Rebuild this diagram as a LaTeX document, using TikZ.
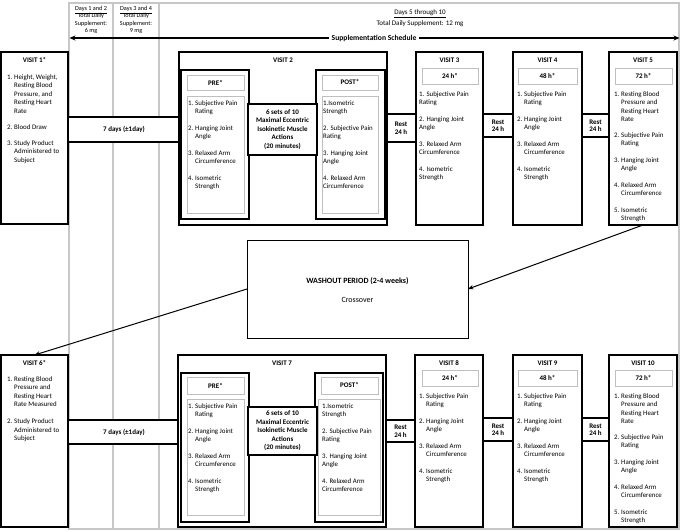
\documentclass[tikz,border=0pt]{standalone}
\usepackage{fontspec}
\setmainfont{Carlito}
\usetikzlibrary{arrows.meta}
\newcommand\bx[6]{%
  \pgfmathsetmacro\bxw{#4-#2}\pgfmathsetmacro\bxh{#5-#3}%
  \node[#6, minimum width=\bxw pt, minimum height=\bxh pt] (#1) at ({(#2+#4)/2},{(#3+#5)/2}) {};}
\newcommand\hl[1]{\begin{tabular}[t]{@{}l@{\hspace{1.8pt}}l@{}}#1\end{tabular}}
\newcommand\nl[1]{\begin{tabular}[t]{@{}l@{}}#1\end{tabular}}
\newcommand\gap{\\[8pt]}
\newcommand\LstStd{\hl{1. & Subjective Pain\\ & Rating\gap 2. & Hanging Joint\\ & Angle\gap 3. & Relaxed Arm\\ & Circumference\gap 4. & Isometric\\ & Strength}}
\newcommand\LstStdN{\nl{1. Subjective Pain\\Rating\gap 2. Hanging Joint\\Angle\gap 3. Relaxed Arm\\Circumference\gap 4. Isometric\\Strength}}
\newcommand\LstPost{\nl{1.Isometric\\Strength\gap 2. Subjective Pain\\Rating\gap 3. Hanging Joint\\Angle\gap 4. Relaxed Arm\\Circumference}}
\newcommand\LstFive{\hl{1. & Resting Blood\\ & Pressure and\\ & Resting Heart\\ & Rate\\[7pt] 2. & Subjective Pain\\ & Rating\gap 3. & Hanging Joint\\ & Angle\gap 4. & Relaxed Arm\\ & Circumference\gap 5. & Isometric\\ & Strength}}
\begin{document}
\begin{tikzpicture}[x=1pt,y=-1pt,
 grid/.style={draw=black!22, line width=1.1pt},
 vbox/.style={draw=black, line width=1.1pt, fill=white, inner sep=0pt, outer sep=0pt},
 pbox/.style={draw=black, line width=1.6pt, fill=white, inner sep=0pt, outer sep=0pt},
 gbox/.style={draw=black!25, line width=0.8pt, fill=white, inner sep=0pt, outer sep=0pt},
 ttl/.style={font=\fontsize{7}{8.5}\selectfont\bfseries, inner sep=0pt, align=center},
 rst/.style={font=\fontsize{7}{7.5}\selectfont\bfseries, inner sep=0pt, align=center},
 hdr/.style={font=\fontsize{6.2}{7.4}\selectfont, inner sep=0pt, align=center},
 lst/.style={font=\fontsize{6.9}{8.5}\selectfont, anchor=north west, inner sep=0pt},
 conn/.style={-{Stealth[length=5.5pt,width=4.5pt]}, line width=1pt},
]
\useasboundingbox (0,0) rectangle (685,531);
% background grid of the schedule
\draw[grid] (69,3) -- (679,3) -- (679,529) -- (69,529) -- cycle;
\draw[grid] (113,3) -- (113,529);
\draw[grid] (159,3) -- (159,529);
% header
\node[hdr] (d12) at (91,20) {\underline{Days 1 and 2}\\Total Daily\\Supplement:\\6 mg};
\node[hdr] (d34) at (136,20) {\underline{Days 3 and 4}\\Total Daily\\Supplement:\\9 mg};
\node[font=\fontsize{7}{11}\selectfont, align=center, inner sep=0pt] (d510) at (420,18.5) {\underline{Days 5 through 10}\\Total Daily Supplement: 12 mg};
\coordinate (ss) at (69.5,38);
\coordinate (se) at (679.5,38);
\draw[line width=1.3pt, {Stealth[length=6pt,width=5pt]}-{Stealth[length=6pt,width=5pt]}] (ss) -- (se);
\node[fill=white, font=\fontsize{7.6}{9}\selectfont\bfseries, inner xsep=3pt, inner ysep=1pt] (sched) at (374,38) {Supplementation Schedule};
% ---------- top row ----------
\bx{d7a}{68}{117}{180}{142}{vbox}
\bx{r1}{386}{114}{416}{142}{vbox}
\bx{r2}{483}{114}{513}{137}{vbox}
\bx{r3}{582}{114}{609}{137}{vbox}
\bx{v1}{1}{52}{68}{224}{vbox}
\bx{v2}{179}{52}{387}{225}{vbox}
\bx{pre2}{181}{70}{249}{219}{pbox}
\bx{post2}{316}{70}{385}{219}{pbox}
\bx{act2}{248}{104}{317}{155}{pbox}
\bx{preh2}{187}{75}{244}{90}{gbox}
\bx{prel2}{187}{96}{244}{213}{gbox}
\bx{posth2}{322}{75}{378}{90}{gbox}
\bx{postl2}{322}{96}{378}{213}{gbox}
\bx{v3}{416}{52}{483}{225}{vbox}
\bx{h3}{422}{68}{478}{84}{gbox}
\bx{v4}{513}{52}{582}{225}{vbox}
\bx{h4}{518}{68}{577}{84}{gbox}
\bx{v5}{609}{52}{677}{225}{vbox}
\bx{h5}{615}{68}{672}{84}{gbox}
% ---------- washout ----------
\bx{wo}{247}{240}{468}{338}{draw=black, line width=0.9pt, fill=white, inner sep=0pt, outer sep=0pt}
% ---------- bottom row ----------
\bx{d7b}{68}{420}{180}{444}{vbox}
\bx{r4}{386}{420}{415}{442}{vbox}
\bx{r5}{483}{418}{513}{441}{vbox}
\bx{r6}{582}{418}{609}{441}{vbox}
\bx{v6}{1}{355}{68}{527}{vbox}
\bx{v7}{178}{355}{386}{527}{vbox}
\bx{pre7}{181}{373}{249}{522}{pbox}
\bx{post7}{315}{373}{383}{522}{pbox}
\bx{act7}{248}{407}{317}{455}{pbox}
\bx{preh7}{187}{377}{244}{394}{gbox}
\bx{prel7}{187}{399}{244}{515}{gbox}
\bx{posth7}{321}{377}{378}{394}{gbox}
\bx{postl7}{318}{399}{380}{515}{gbox}
\bx{v8}{415}{355}{483}{527}{vbox}
\bx{h8}{422}{370}{478}{386}{gbox}
\bx{v9}{513}{355}{582}{527}{vbox}
\bx{h9}{518}{370}{577}{386}{gbox}
\bx{v10}{609}{355}{677}{527}{vbox}
\bx{h10}{615}{370}{672}{386}{gbox}
% ---------- texts top ----------
\node[ttl] (t1) at (34.5,60) {VISIT 1*};
\node[lst] (l1) at (7,73.3) {\hl{1. & Height, Weight,\\ & Resting Blood\\ & Pressure, and\\ & Resting Heart\\ & Rate\\[7.5pt] 2. & Blood Draw\\[7.5pt] 3. & Study Product\\ & Administered to\\ & Subject}};
\node[rst] (t7a) at (d7a) {7 days (±1day)};
\node[ttl] (t2) at (283,60) {VISIT 2};
\node[ttl] (tpre2) at (preh2) {PRE*};
\node[ttl] (tpost2) at (posth2) {POST*};
\node[lst] (lpre2) at (188,99.3) {\LstStd};
\node[lst] (lpost2) at (323,99.3) {\LstPost};
\node[ttl] (tact2) at (act2) {6 sets of 10\\Maximal Eccentric\\Isokinetic Muscle\\Actions\\(20 minutes)};
\node[rst] (tr1) at (r1) {Rest\\24 h};
\node[rst] (tr2) at (r2) {Rest\\24 h};
\node[rst] (tr3) at (r3) {Rest\\24 h};
\node[ttl] (t3) at (449.5,60) {VISIT 3};
\node[ttl] (th3) at (h3) {24 h*};
\node[lst] (l3) at (419,90.3) {\LstStdN};
\node[ttl] (t4) at (547.5,60) {VISIT 4};
\node[ttl] (th4) at (h4) {48 h*};
\node[lst] (l4) at (517,90.3) {\LstStd};
\node[ttl] (t5) at (643,60) {VISIT 5};
\node[ttl] (th5) at (h5) {72 h*};
\node[lst] (l5) at (614,90.3) {\LstFive};
% ---------- washout text ----------
\node[font=\fontsize{8}{9}\selectfont\bfseries, inner sep=0pt] (two) at (357.5,281) {WASHOUT PERIOD (2-4 weeks)};
\node[font=\fontsize{8}{9}\selectfont, inner sep=0pt] (tco) at (357.5,300) {Crossover};
% ---------- texts bottom ----------
\node[ttl] (t6) at (34.5,363) {VISIT 6*};
\node[lst] (l6) at (7,375.3) {\hl{1. & Resting Blood\\ & Pressure and\\ & Resting Heart\\ & Rate Measured\\[8.5pt] 2. & Study Product\\ & Administered to\\ & Subject}};
\node[rst] (t7b) at (d7b) {7 days (±1day)};
\node[ttl] (t7) at (282,363) {VISIT 7};
\node[ttl] (tpre7) at (preh7) {PRE*};
\node[ttl] (tpost7) at (posth7) {POST*};
\node[lst] (lpre7) at (188,402.3) {\LstStd};
\node[lst] (lpost7) at (322,402.3) {\LstPost};
\node[ttl] (tact7) at (act7) {6 sets of 10\\Maximal Eccentric\\Isokinetic Muscle\\Actions\\(20 minutes)};
\node[rst] (tr4) at (r4) {Rest\\24 h};
\node[rst] (tr5) at (r5) {Rest\\24 h};
\node[rst] (tr6) at (r6) {Rest\\24 h};
\node[ttl] (t8) at (449,363) {VISIT 8};
\node[ttl] (th8) at (h8) {24 h*};
\node[lst] (l8) at (419,392.3) {\LstStd};
\node[ttl] (t9) at (547.5,363) {VISIT 9};
\node[ttl] (th9) at (h9) {48 h*};
\node[lst] (l9) at (517,392.3) {\LstStd};
\node[ttl] (t10) at (643,363) {VISIT 10};
\node[ttl] (th10) at (h10) {72 h*};
\node[lst] (l10) at (614,392.3) {\LstFive};
% ---------- connectors ----------
\draw[conn] (v5.south) -- (wo.east);
\draw[conn] (wo.west) -- (v6.north);
\end{tikzpicture}
\end{document}
